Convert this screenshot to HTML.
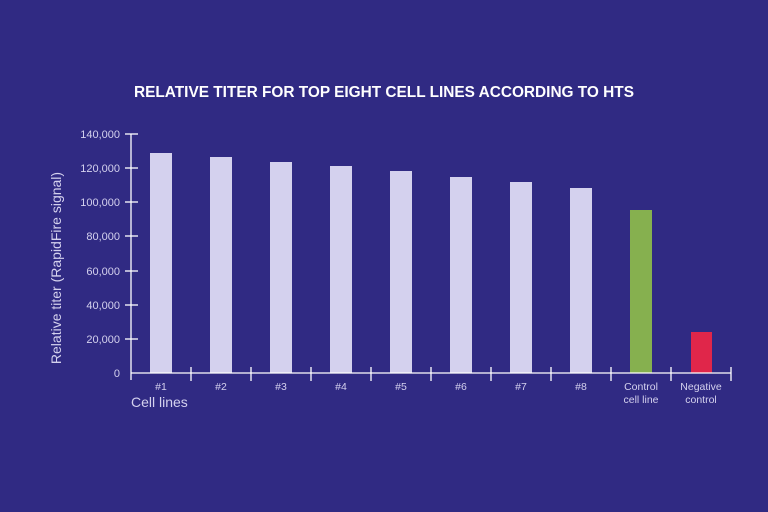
<!DOCTYPE html><html><head><style>body{margin:0;background:#302a83}svg{display:block}</style></head><body>
<svg width="768" height="512" xmlns="http://www.w3.org/2000/svg" font-family="Liberation Sans, sans-serif">
<rect width="768" height="512" fill="#302a83"/>
<text x="384" y="97" fill="#fff" font-size="15.4" font-weight="bold" text-anchor="middle">RELATIVE TITER FOR TOP EIGHT CELL LINES ACCORDING TO HTS</text>
<g fill="#d4d1ee">
<rect x="150" y="153" width="22" height="220"/>
<rect x="210" y="157" width="22" height="216"/>
<rect x="270" y="162" width="22" height="211"/>
<rect x="330" y="166" width="22" height="207"/>
<rect x="390" y="171" width="22" height="202"/>
<rect x="450" y="177" width="22" height="196"/>
<rect x="510" y="182" width="22" height="191"/>
<rect x="570" y="188" width="22" height="185"/>
</g>
<rect x="630" y="210" width="22" height="163" fill="#86b04f"/>
<rect x="691" y="332" width="21" height="41" fill="#e0264a"/>
<g stroke="#fff" stroke-width="1.3">
<line x1="131" y1="134" x2="131" y2="380"/>
<line x1="131" y1="373" x2="731" y2="373"/>
<line x1="125" y1="134" x2="138" y2="134"/><line x1="125" y1="168" x2="138" y2="168"/><line x1="125" y1="202" x2="138" y2="202"/><line x1="125" y1="236" x2="138" y2="236"/><line x1="125" y1="271" x2="138" y2="271"/><line x1="125" y1="305" x2="138" y2="305"/><line x1="125" y1="339" x2="138" y2="339"/>
<line x1="191" y1="367" x2="191" y2="381"/><line x1="251" y1="367" x2="251" y2="381"/><line x1="311" y1="367" x2="311" y2="381"/><line x1="371" y1="367" x2="371" y2="381"/><line x1="431" y1="367" x2="431" y2="381"/><line x1="491" y1="367" x2="491" y2="381"/><line x1="551" y1="367" x2="551" y2="381"/><line x1="611" y1="367" x2="611" y2="381"/><line x1="671" y1="367" x2="671" y2="381"/><line x1="731" y1="367" x2="731" y2="381"/>
</g>
<g fill="#d4d1ee" font-size="11" text-anchor="end">
<text x="120" y="138">140,000</text><text x="120" y="172">120,000</text><text x="120" y="206">100,000</text><text x="120" y="240">80,000</text><text x="120" y="275">60,000</text><text x="120" y="309">40,000</text><text x="120" y="343">20,000</text><text x="120" y="377">0</text>
</g>
<g fill="#d4d1ee" font-size="10.5" text-anchor="middle">
<text x="161" y="390">#1</text><text x="221" y="390">#2</text><text x="281" y="390">#3</text><text x="341" y="390">#4</text><text x="401" y="390">#5</text><text x="461" y="390">#6</text><text x="521" y="390">#7</text><text x="581" y="390">#8</text>
<text x="641" y="390">Control</text><text x="641" y="403">cell line</text>
<text x="701" y="390">Negative</text><text x="701" y="403">control</text>
</g>
<text x="131" y="407" fill="#d4d1ee" font-size="14">Cell lines</text>
<text transform="translate(61,268) rotate(-90)" fill="#d4d1ee" font-size="14" text-anchor="middle">Relative titer (RapidFire signal)</text>
</svg></body></html>
